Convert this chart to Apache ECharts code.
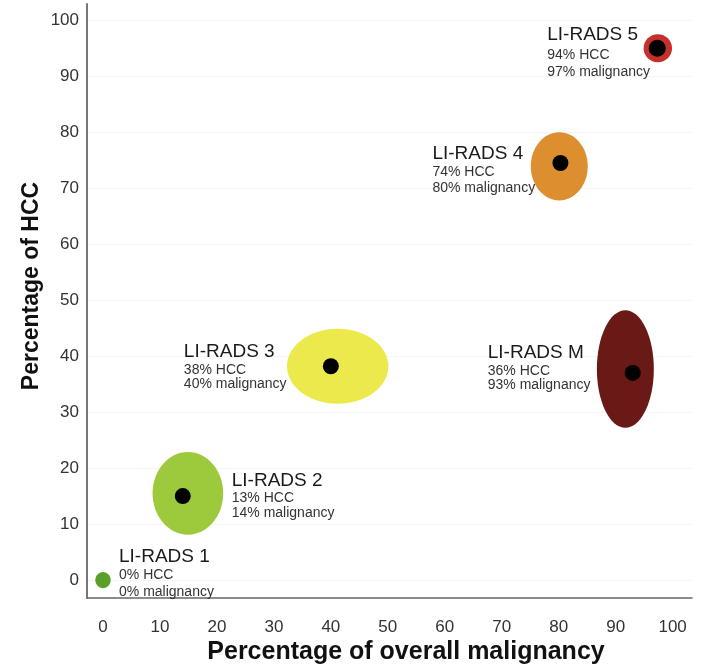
<!DOCTYPE html>
<html>
<head>
<meta charset="utf-8">
<script src="https://cdn.jsdelivr.net/npm/echarts@6/dist/echarts.min.js"></script>
<style>html,body{margin:0;padding:0;background:#fff}#c{width:702px;height:665px}</style>
</head>
<body>
<div id="c"></div>
<script>
// ---- data ----
const categories = ['LI-RADS 1', 'LI-RADS 2', 'LI-RADS 3', 'LI-RADS 4', 'LI-RADS 5', 'LI-RADS M'];
const hccPct = [0, 13, 38, 74, 94, 36];            // as written in labels
const malignancyPct = [0, 14, 40, 80, 97, 93];     // as written in labels
const dotX = [0, 14, 40, 80.3, 97.3, 93];          // black point (malignancy %)
const dotY = [0, 15, 38.2, 74.5, 95, 37];          // black point (HCC %)
const ellipseCx = [0, 14.9, 41.2, 80.1, 97.4, 91.7];
const ellipseCy = [0, 15.5, 38.2, 73.9, 95, 37.7];
const ellipseRx = [1.35, 6.2, 8.9, 5.0, 2.5, 5.0];
const ellipseRy = [1.45, 7.4, 6.7, 6.1, 2.5, 10.5];
const xTickValues = [0, 10, 20, 30, 40, 50, 60, 70, 80, 90, 100];
const yTickValues = [0, 10, 20, 30, 40, 50, 60, 70, 80, 90, 100];

// ---- styles ----
const fillColors = ['#5a9f2a', '#9dca3c', '#ece94d', '#dd8e2f', '#c5302a', '#6a1a16'];
const showDot = [false, true, true, true, true, true];
const dotRadius = [0, 8, 8, 8, 8.5, 8];
const labelOffset = [[16, -23], [49, -15], [-147, -14], [-128, -9], [-110, -13], [-145, -20]];
const labelLineGap = [[18, 35], [17, 32], [18, 32], [18, 34], [20, 37], [18, 32]];

const seriesData = categories.map((c, i) => [ellipseCx[i], ellipseCy[i], ellipseRx[i], ellipseRy[i], dotX[i], dotY[i]]);

const chart = echarts.init(document.getElementById('c'));
const FONT = '"Liberation Sans", Arial, Helvetica, sans-serif';

chart.setOption({
  animation: false,
  grid: { left: 87, right: 10, top: 4, bottom: 67, containLabel: false, outerBoundsMode: 'none' },
  xAxis: {
    type: 'value', min: -2.81, max: 103.4,
    name: 'Percentage of overall malignancy', nameLocation: 'middle', nameGap: 42, nameMoveOverlap: false,
    nameTextStyle: { fontFamily: FONT, fontWeight: 'bold', fontSize: 25, color: '#111', padding: [0, 0, 0, 33] },
    axisLine: { show: true, onZero: false, lineStyle: { color: '#666', width: 1.5 } },
    axisTick: { show: false, customValues: xTickValues },
    axisLabel: { customValues: xTickValues, fontFamily: FONT, fontSize: 17, color: '#333', margin: 21 },
    splitLine: { show: false }
  },
  yAxis: {
    type: 'value', min: -3.2, max: 102.9,
    name: 'Percentage of HCC', nameLocation: 'middle', nameGap: 44, nameMoveOverlap: false,
    nameTextStyle: { fontFamily: FONT, fontWeight: 'bold', fontSize: 23, color: '#111', padding: [0, 0, 0, 30] },
    axisLine: { show: true, onZero: false, lineStyle: { color: '#777', width: 2 } },
    axisTick: { show: false, customValues: yTickValues },
    axisLabel: { customValues: yTickValues, fontFamily: FONT, fontSize: 17, color: '#333', margin: 8 },
    splitLine: { show: true, lineStyle: { color: '#f5f5f5', width: 1 } }
  },
  series: [{
    type: 'custom',
    coordinateSystem: 'cartesian2d',
    encode: { x: [0, 4], y: [1, 5] },
    data: seriesData,
    clip: false,
    renderItem: function (params, api) {
      const i = params.dataIndex;
      const c = api.coord([api.value(0), api.value(1)]);
      const sz = api.size([api.value(2), api.value(3)]);
      const d = api.coord([api.value(4), api.value(5)]);
      const off = labelOffset[i];
      const gap = labelLineGap[i];
      const tx = d[0] + off[0], ty = d[1] + off[1];
      const children = [{
        type: 'ellipse',
        shape: { cx: c[0], cy: c[1], rx: sz[0], ry: sz[1] },
        style: { fill: fillColors[i] }
      }];
      if (showDot[i]) {
        children.push({
          type: 'circle',
          shape: { cx: d[0], cy: d[1], r: dotRadius[i] },
          style: { fill: '#000' }
        });
      }
      children.push({
        type: 'text', x: tx, y: ty,
        style: { text: categories[i], fontFamily: FONT, fontSize: 19, fill: '#1a1a1a', textAlign: 'left', textVerticalAlign: 'middle' }
      });
      children.push({
        type: 'text', x: tx, y: ty + gap[0],
        style: { text: hccPct[i] + '% HCC', fontFamily: FONT, fontSize: 14, fill: '#333', textAlign: 'left', textVerticalAlign: 'middle' }
      });
      children.push({
        type: 'text', x: tx, y: ty + gap[1],
        style: { text: malignancyPct[i] + '% malignancy', fontFamily: FONT, fontSize: 14, fill: '#333', textAlign: 'left', textVerticalAlign: 'middle' }
      });
      return { type: 'group', children: children };
    }
  }]
});
</script>
</body>
</html>
